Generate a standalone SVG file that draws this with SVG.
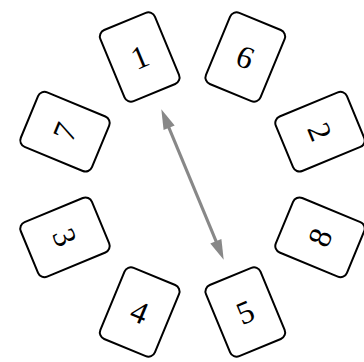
<svg xmlns="http://www.w3.org/2000/svg" width="364" height="362" viewBox="0 0 364 362">
<style>
.card rect{fill:#fff;stroke:#000;stroke-width:2}
.card text{font-family:"Liberation Serif","Times New Roman",serif;font-size:32px;text-anchor:middle;fill:#000}
.arrow line{stroke:#888;stroke-width:3.2}
.arrow polygon{fill:#888}
</style>
<rect width="364" height="362" fill="#fff"/>
<g id="card1" class="card" transform="translate(139.7,57) rotate(-22.5)"><rect x="-29.5" y="-38.5" width="59" height="77" rx="7"/><text x="0" y="11">1</text></g>
<g id="card6" class="card" transform="translate(245.3,57) rotate(22.5)"><rect x="-29.5" y="-38.5" width="59" height="77" rx="7"/><text x="0" y="11">6</text></g>
<g id="card2" class="card" transform="translate(320,131.7) rotate(67.5)"><rect x="-29.5" y="-38.5" width="59" height="77" rx="7"/><text x="0" y="11">2</text></g>
<g id="card8" class="card" transform="translate(320,237.3) rotate(-67.5)"><rect x="-29.5" y="-38.5" width="59" height="77" rx="7"/><text x="0" y="11">8</text></g>
<g id="card5" class="card" transform="translate(245.3,312) rotate(-22.5)"><rect x="-29.5" y="-38.5" width="59" height="77" rx="7"/><text x="0" y="11">5</text></g>
<g id="card4" class="card" transform="translate(139.7,312) rotate(22.5)"><rect x="-29.5" y="-38.5" width="59" height="77" rx="7"/><text x="0" y="11">4</text></g>
<g id="card3" class="card" transform="translate(65,237.3) rotate(67.5)"><rect x="-29.5" y="-38.5" width="59" height="77" rx="7"/><text x="0" y="11">3</text></g>
<g id="card7" class="card" transform="translate(65,131.7) rotate(-67.5)"><rect x="-29.5" y="-38.5" width="59" height="77" rx="7"/><text x="0" y="11">7</text></g>
<g id="connectors" class="arrow">
<line x1="168" y1="125.5" x2="217" y2="243.5"/>
<polygon points="161.3,109.2 174.7,125.5 163.6,130.1"/>
<polygon points="223.7,259.8 221.4,238.9 210.3,243.5"/>
</g>
</svg>
